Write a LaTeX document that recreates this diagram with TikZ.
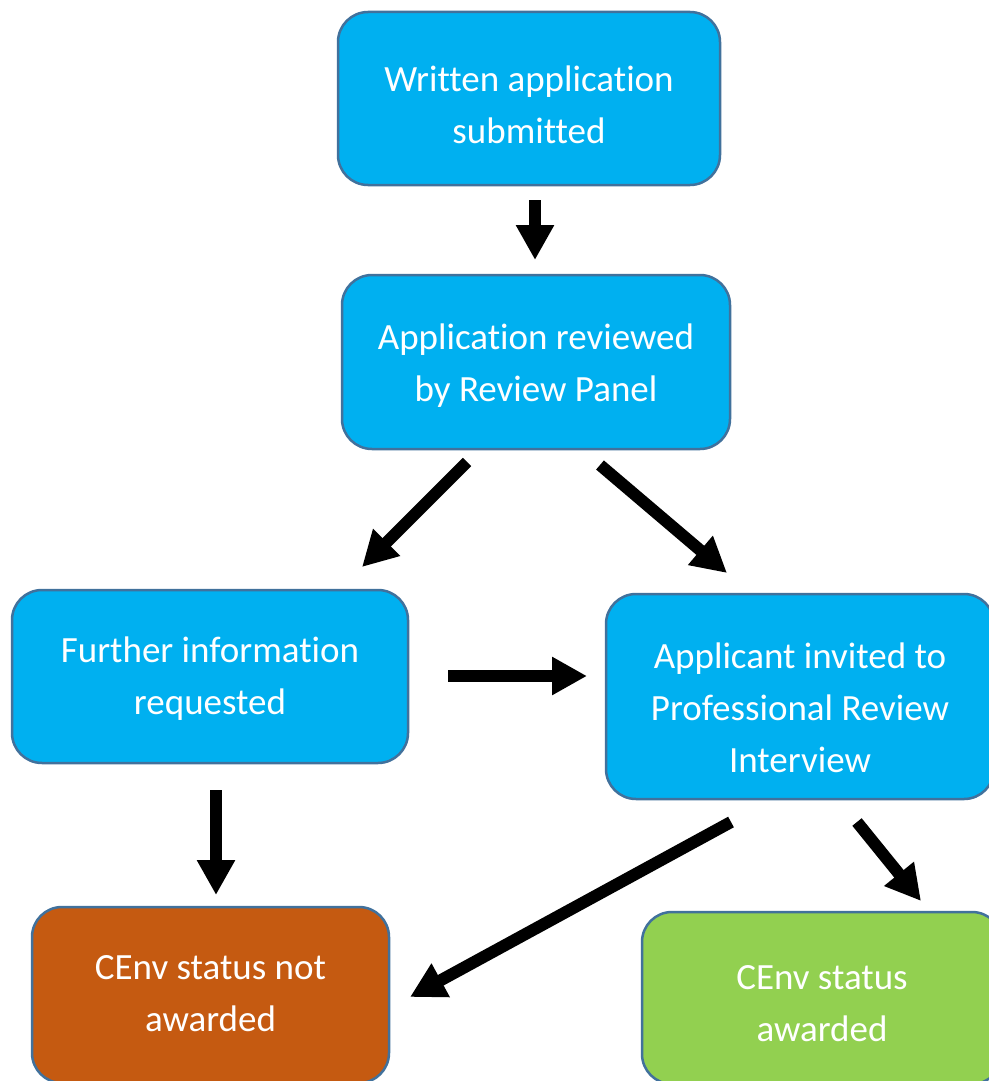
\documentclass[tikz,border=0pt]{standalone}
\usepackage{fontspec}
\setmainfont{Carlito}[Ligatures=NoCommon]
\usetikzlibrary{arrows.meta}
\definecolor{boxblue}{HTML}{00B0F0}
\definecolor{boxline}{HTML}{41719C}
\definecolor{boxorange}{HTML}{C55A11}
\definecolor{boxgreen}{HTML}{92D050}
\newcommand\loweredtext[2]{\raisebox{-#1}[\height][\depth]{\begin{tabular}{@{}c@{}}#2\end{tabular}}}
\tikzset{
  stagebox/.style={draw=boxline, line width=2.5pt, rounded corners=30pt, fill=boxblue,
    text=white, inner sep=0pt,
    font=\fontsize{37}{52}\selectfont},
  flowarrow/.style={line width=12pt, -{Triangle[width=36pt,length=35pt]}, black}
}
\begin{document}
\begin{tikzpicture}[x=1pt,y=-1pt]
\useasboundingbox (0,0) rectangle (988,1081);
\node[stagebox, minimum width=382pt, minimum height=173pt] (n1) at (529,98.5) {\loweredtext{9pt}{Written application\\submitted}};
\node[stagebox, minimum width=388pt, minimum height=174pt] (n2) at (536,362) {\loweredtext{3pt}{Application reviewed\\by Review Panel}};
\node[stagebox, minimum width=396pt, minimum height=173pt] (n3) at (210,676.5) {\loweredtext{2pt}{Further information\\requested}};
\node[stagebox, minimum width=388pt, minimum height=205pt] (n4) at (800,696.5) {\loweredtext{14pt}{Applicant invited to\\Professional Review\\Interview}};
\node[stagebox, fill=boxorange, minimum width=357pt, minimum height=176pt] (n5) at (210.5,995) {\loweredtext{0pt}{CEnv status not\\awarded}};
\node[stagebox, fill=boxgreen, minimum width=360pt, minimum height=172pt] (n6) at (822,998) {\loweredtext{7pt}{CEnv status\\awarded}};
% arrow end points
\coordinate (a1s) at (535,200); \coordinate (a1e) at (535,260);
\coordinate (a2s) at (467,462); \coordinate (a2e) at (362,567);
\coordinate (a3s) at (600,465); \coordinate (a3e) at (727,573);
\coordinate (a4s) at (448,676); \coordinate (a4e) at (587,676);
\coordinate (a5s) at (216,790); \coordinate (a5e) at (216,895);
\coordinate (a6s) at (731,822); \coordinate (a6e) at (410,997);
\coordinate (a7s) at (857,822); \coordinate (a7e) at (921,901);
\draw[flowarrow] (a1s) -- (a1e);
\draw[flowarrow] (a2s) -- (a2e);
\draw[flowarrow] (a3s) -- (a3e);
\draw[flowarrow] (a4s) -- (a4e);
\draw[flowarrow] (a5s) -- (a5e);
\draw[flowarrow] (a6s) -- (a6e);
\draw[flowarrow] (a7s) -- (a7e);
\end{tikzpicture}
\end{document}
